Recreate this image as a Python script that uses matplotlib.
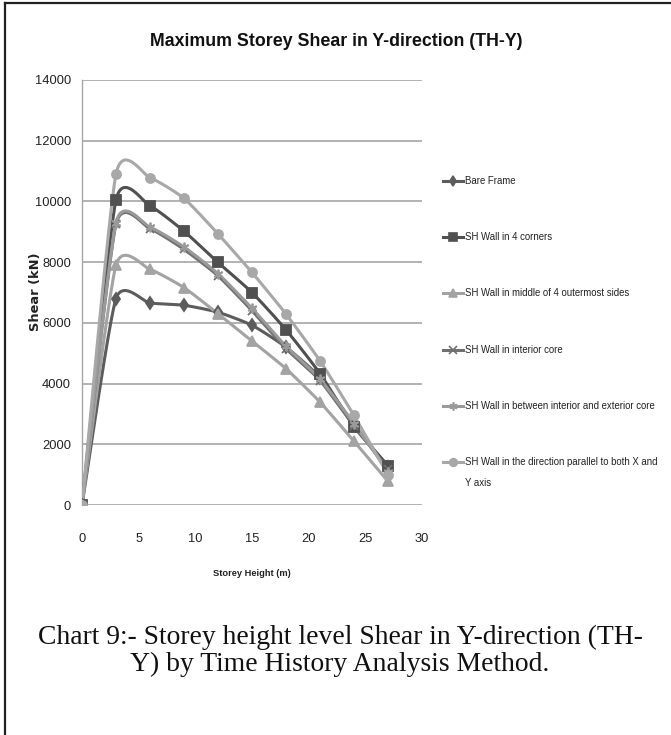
import numpy as np
import matplotlib
matplotlib.use("Agg")
import matplotlib.pyplot as plt
from matplotlib.lines import Line2D

# ---------------- data ----------------
storey_height = [0, 3, 6, 9, 12, 15, 18, 21, 24, 27]
bare_frame = [0, 6800, 6650, 6580, 6350, 5920, 5200, 4200, 2650, 1250]
wall_4_corners = [0, 10050, 9850, 9020, 7990, 7000, 5770, 4330, 2580, 1300]
wall_middle_sides = [0, 7900, 7760, 7160, 6300, 5400, 4490, 3390, 2100, 780]
wall_interior_core = [0, 9250, 9100, 8420, 7550, 6400, 5150, 4100, 2600, 1200]
wall_between_core = [0, 9300, 9150, 8500, 7620, 6480, 5230, 4150, 2680, 1100]
wall_parallel_xy = [0, 10900, 10780, 10100, 8930, 7660, 6290, 4750, 2950, 1000]

series_labels = [
    "Bare Frame",
    "SH Wall in 4 corners",
    "SH Wall in middle of 4 outermost sides",
    "SH Wall in interior core",
    "SH Wall in between interior and exterior core",
    "SH Wall in the direction parallel to both X and\nY axis",
]
x_ticks = [0, 5, 10, 15, 20, 25, 30]
y_ticks = [0, 2000, 4000, 6000, 8000, 10000, 12000, 14000]

title_text = "Maximum Storey Shear in Y-direction (TH-Y)"
x_label = "Storey Height (m)"
y_label = "Shear (kN)"
caption_1 = "Chart 9:- Storey height level Shear in Y-direction (TH-"
caption_2 = "Y) by Time History Analysis Method."

# ---------------- styles ----------------
colors = ["#5c5c5c", "#505050", "#a3a3a3", "#707070", "#9a9a9a", "#a8a8a8"]
markers = ["d", "s", "^", "x", (6, 2, 0), "o"]
msizes = [6, 6.5, 6.5, 6, 7, 6.5]

SANS = ["Liberation Sans", "DejaVu Sans"]
W, H = 671, 735


def X(px):
    return px / W


def Y(py):
    return 1 - py / H


def smooth(xs, ys, f=0.1, n=40):
    P = np.column_stack([xs, ys]).astype(float)
    out = []
    for i in range(len(P) - 1):
        p0 = P[i - 1] if i > 0 else P[i]
        p1, p2 = P[i], P[i + 1]
        p3 = P[i + 2] if i + 2 < len(P) else P[i + 1]
        b1 = p1 + f * (p2 - p0)
        b2 = p2 - f * (p3 - p1)
        t = np.linspace(0, 1, n)[:, None]
        seg = (1 - t) ** 3 * p1 + 3 * (1 - t) ** 2 * t * b1 + 3 * (1 - t) * t ** 2 * b2 + t ** 3 * p2
        out.append(seg if i == 0 else seg[1:])
    return np.vstack(out)


fig = plt.figure(figsize=(W / 100, H / 100), dpi=100)
renderer = fig.canvas.get_renderer()


def fit(t, target, vertical=False):
    bb = t.get_window_extent(renderer)
    cur = bb.height if vertical else bb.width
    t.set_fontsize(t.get_fontsize() * target / cur)


ax = fig.add_axes([X(82), Y(505), (422 - 82) / W, (505 - 80) / H])

all_series = [bare_frame, wall_4_corners, wall_middle_sides,
              wall_interior_core, wall_between_core, wall_parallel_xy]

for ys, c, m, ms in zip(all_series, colors, markers, msizes):
    curve = smooth(storey_height, ys)
    ax.plot(curve[:, 0], curve[:, 1], color=c, lw=2.2, solid_capstyle="round", zorder=3)
    ax.plot(storey_height, ys, linestyle="none", marker=m, ms=ms, color=c,
            mec=c, mew=1.3, zorder=4)

ax.set_xlim(0, 30)
ax.set_ylim(0, 14000)
ax.set_xticks(x_ticks)
ax.set_yticks(y_ticks)
ax.set_xticklabels([str(v) for v in x_ticks], family=SANS, fontsize=9.3, color="#222222")
ax.set_yticklabels([str(v) for v in y_ticks], family=SANS, fontsize=9.3, color="#222222")
ax.tick_params(axis="both", length=0)
ax.tick_params(axis="x", pad=20)
ax.tick_params(axis="y", pad=8)
ax.grid(axis="y", color="#a6a6a6", lw=1.2)
ax.set_axisbelow(True)
for s in ["top", "right", "bottom"]:
    ax.spines[s].set_visible(False)
ax.spines["left"].set_color("#a6a6a6")
ax.spines["left"].set_linewidth(1.0)
ax.set_facecolor("none")

# title / labels
t = fig.text(X(336), Y(41), title_text, ha="center", va="center",
             family=SANS, fontweight="bold", fontsize=14, color="#111111")
fit(t, 372)
t = fig.text(X(252), Y(573), x_label, ha="center", va="center",
             family=SANS, fontweight="bold", fontsize=7, color="#222222")
fit(t, 78)
t = fig.text(X(35), Y(292), y_label, ha="center", va="center", rotation=90,
             family="DejaVu Sans", fontweight="bold", fontsize=7, color="#222222")
fit(t, 79, vertical=True)

# legend size from the longest single-line label
probe = fig.text(0, 0, series_labels[4], family=SANS, fontsize=8)
leg_size = 8 * 194 / probe.get_window_extent(renderer).width
probe.remove()

leg_y = [181, 237, 293, 350, 406, 462]
for lab, c, m, ms, ly in zip(series_labels, colors, markers, msizes, leg_y):
    fig.add_artist(Line2D([X(443), X(463)], [Y(ly), Y(ly)], color=c, lw=2.2,
                          transform=fig.transFigure))
    fig.add_artist(Line2D([X(453)], [Y(ly)], marker=m, ms=ms * 0.85, color=c, mec=c, mew=1.2,
                          linestyle="none", transform=fig.transFigure))
    for k, part in enumerate(lab.split("\n")):
        fig.text(X(465), Y(ly + 21 * k), part, ha="left", va="center", family=SANS,
                 fontsize=leg_size, color="#222222")

# caption
c1 = fig.text(X(340), Y(637), caption_1, ha="center", va="center",
              family="Liberation Serif", fontsize=17, color="#111111")
fit(c1, 605)
c2 = fig.text(X(340), Y(664), caption_2, ha="center", va="center",
              family="Liberation Serif", fontsize=c1.get_fontsize(), color="#111111")

# page border (left and top)
fig.add_artist(Line2D([X(5), X(5)], [Y(3), Y(735)], color="#222222", lw=1.6,
                      transform=fig.transFigure))
fig.add_artist(Line2D([X(5), X(671)], [Y(3), Y(3)], color="#222222", lw=1.6,
                      transform=fig.transFigure))

fig.savefig("out.png", dpi=100, facecolor="white")
